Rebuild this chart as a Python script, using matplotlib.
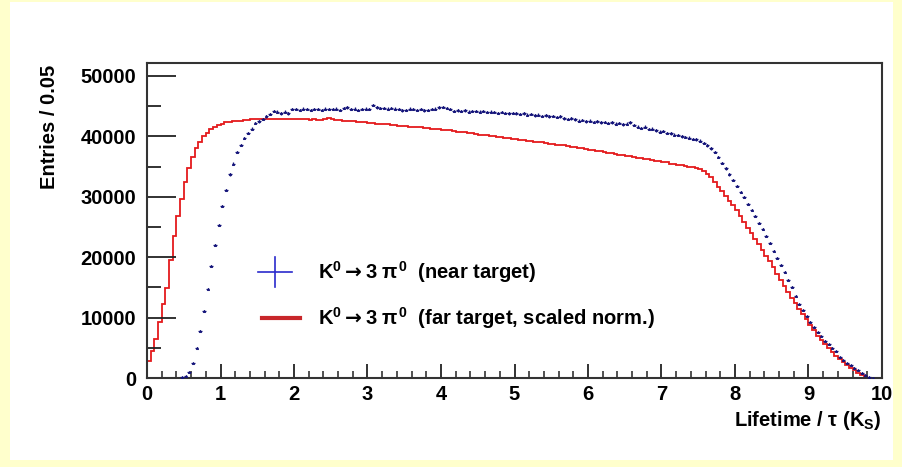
import numpy as np
import matplotlib
matplotlib.use("Agg")
import matplotlib.pyplot as plt
from matplotlib.patches import Rectangle

# histogram: 200 bins of width 0.05 on [0, 10], contents in thousands of entries
BIN_WIDTH = 0.05
EDGES = np.arange(0, 10.0001, BIN_WIDTH)

far_target = [
    2.8, 4.4, 6.5, 9.2, 12.3, 14.9, 19.6, 23.5, 26.8, 29.7,
    32.4, 34.8, 36.6, 38.1, 39.1, 40.1, 40.6, 41.2, 41.6, 41.9,
    42.1, 42.3, 42.4, 42.5, 42.6, 42.6, 42.7, 42.7, 42.8, 42.8,
    42.8, 42.9, 42.8, 42.9, 42.9, 42.8, 42.9, 42.9, 42.8, 42.9,
    42.8, 42.8, 42.8, 42.8, 42.7, 42.8, 42.7, 42.7, 42.8, 43.0,
    42.8, 42.7, 42.7, 42.6, 42.6, 42.5, 42.5, 42.4, 42.4, 42.3,
    42.2, 42.2, 42.1, 42.1, 42.0, 42.0, 41.9, 41.9, 41.8, 41.8,
    41.7, 41.6, 41.6, 41.5, 41.5, 41.4, 41.4, 41.3, 41.3, 41.2,
    41.1, 41.1, 41.0, 40.9, 40.8, 40.7, 40.7, 40.6, 40.5, 40.4,
    40.3, 40.3, 40.2, 40.1, 40.0, 39.9, 39.9, 39.8, 39.7, 39.6,
    39.5, 39.4, 39.4, 39.3, 39.2, 39.1, 39.0, 39.0, 38.9, 38.8,
    38.7, 38.6, 38.6, 38.5, 38.4, 38.3, 38.2, 38.1, 38.0, 37.9,
    37.8, 37.7, 37.6, 37.5, 37.4, 37.3, 37.2, 37.1, 37.0, 36.9,
    36.8, 36.7, 36.6, 36.5, 36.4, 36.3, 36.2, 36.1, 36.0, 35.9,
    35.8, 35.7, 35.5, 35.4, 35.3, 35.2, 35.1, 35.0, 34.9, 34.8,
    34.6, 34.2, 33.8, 33.3, 32.5, 31.7, 30.9, 30.1, 29.3, 28.6,
    27.8, 26.8, 25.8, 24.8, 24.0, 23.0, 22.2, 21.2, 20.2, 19.3,
    18.3, 17.3, 16.2, 15.2, 14.2, 13.3, 12.4, 11.5, 10.6, 9.7,
    8.8, 7.9, 7.0, 6.3, 5.6, 4.9, 4.3, 3.7, 3.2, 2.7,
    2.2, 1.7, 1.3, 0.9, 0.5, 0.2, 0.05, 0.0, 0.0, 0.0,
]

near_target = [
    0.0, 0.0, 0.0, 0.0, 0.0, 0.0, 0.0, 0.0, 0.0, 0.1,
    0.3, 1.0, 2.5, 5.0, 7.8, 11.1, 14.8, 18.5, 22.0, 25.3,
    28.4, 31.1, 33.7, 35.5, 37.4, 38.6, 39.7, 40.6, 41.3, 42.2,
    42.5, 42.9, 43.3, 43.7, 44.2, 44.1, 43.8, 44.1, 43.8, 44.5,
    44.5, 44.4, 44.6, 44.5, 44.4, 44.5, 44.5, 44.4, 44.6, 44.5,
    44.5, 44.6, 44.4, 44.7, 44.8, 44.5, 44.6, 44.4, 44.5, 44.6,
    44.5, 45.2, 44.8, 44.7, 44.7, 44.6, 44.7, 44.6, 44.5, 44.3,
    44.4, 44.6, 44.5, 44.4, 44.5, 44.3, 44.4, 44.5, 44.6, 44.8,
    44.9, 44.7, 44.5, 44.2, 44.3, 44.2, 44.3, 44.1, 44.2, 44.2,
    44.1, 44.2, 44.0, 44.1, 44.0, 43.9, 44.0, 43.9, 43.8, 43.9,
    43.8, 43.7, 43.8, 43.6, 43.7, 43.5, 43.6, 43.4, 43.5, 43.3,
    43.4, 43.2, 43.3, 43.0, 42.9, 43.0, 42.8, 42.6, 42.7, 42.5,
    42.6, 42.4, 42.5, 42.3, 42.4, 42.2, 42.3, 42.1, 42.2, 42.0,
    42.1, 42.3, 41.9, 41.6, 41.4, 41.6, 41.2, 41.3, 41.0, 40.8,
    40.9, 40.6, 40.5, 40.3, 40.2, 40.0, 39.9, 39.8, 39.6, 39.5,
    39.3, 38.9, 38.5, 38.0, 37.4, 36.6, 35.6, 34.7, 33.7, 32.8,
    31.8, 30.8, 29.9, 28.8, 27.8, 26.8, 25.7, 24.6, 23.5, 22.3,
    21.1, 19.9, 18.7, 17.5, 16.3, 15.1, 13.6, 12.2, 11.2, 10.2,
    9.3, 8.4, 7.6, 6.9, 6.2, 5.6, 5.0, 4.4, 3.4, 2.9,
    2.5, 2.1, 1.7, 1.3, 0.9, 0.5, 0.2, 0.05, 0.0, 0.0,
]

LABEL_NEAR = r"K$^{0}\mathsf{\rightarrow}$3 $\pi^{0}$  (near target)"
LABEL_FAR = r"K$^{0}\mathsf{\rightarrow}$3 $\pi^{0}$  (far target, scaled norm.)"

plt.rcParams["font.family"] = ["Liberation Sans", "DejaVu Sans"]
plt.rcParams["font.weight"] = "bold"
plt.rcParams["mathtext.fontset"] = "custom"
plt.rcParams["mathtext.rm"] = "Liberation Sans:bold"
plt.rcParams["mathtext.it"] = "Liberation Sans"
plt.rcParams["mathtext.bf"] = "Liberation Sans:bold"
plt.rcParams["mathtext.sf"] = "DejaVu Sans"

W, H = 903, 467
fig = plt.figure(figsize=(W / 100, H / 100), dpi=100, facecolor="#ffffcc")
fig.patches.append(Rectangle((10 / W, 7 / H), 883 / W, 458 / H, transform=fig.transFigure,
                             facecolor="white", edgecolor="none", zorder=-10))

ax = fig.add_axes([147 / W, (H - 378) / H, 735 / W, 315 / H])
ax.set_facecolor("none")

far = np.array(far_target) * 1000
near = np.array(near_target) * 1000
centers = EDGES[:-1] + BIN_WIDTH / 2

ax.stairs(far, EDGES, color="#e41a1c", linewidth=1.3)
mask = near > 0
ax.errorbar(centers[mask], near[mask], xerr=BIN_WIDTH / 2, yerr=np.sqrt(near[mask]),
            fmt="^", ms=1.6, mew=0.6, color="#14147a", ecolor="#14147a", elinewidth=0.9,
            capsize=0, zorder=3)

ax.set_xlim(0, 10)
ax.set_ylim(0, 52150)
ax.set_xticks(np.arange(0, 11, 1))
ax.set_xticks(np.arange(0, 10.01, 0.2), minor=True)
ax.set_yticks(np.arange(0, 50001, 10000))
ax.set_yticks(np.arange(0, 50001, 5000), minor=True)
ax.tick_params(which="both", direction="in", top=False, right=False, labelsize=14.5, colors="#222222")
ax.tick_params(axis="y", which="major", length=21, width=1.3, pad=8)
ax.tick_params(axis="y", which="minor", length=10, width=1.3)
ax.tick_params(axis="x", which="major", length=10, width=1.3, pad=5)
ax.tick_params(axis="x", which="minor", length=5, width=1.1)
for lab in ax.get_xticklabels() + ax.get_yticklabels():
    lab.set_fontweight("bold")
    lab.set_color("black")
for sp in ax.spines.values():
    sp.set_linewidth(1.5)
    sp.set_color("#333333")

fig.text(50 / W, 1 - 65 / H, "Entries / 0.05", rotation=90, ha="center", va="top",
         fontsize=14.5, fontweight="bold")
fig.text(882 / W, 1 - 420 / H, r"Lifetime / $\tau$ (K$_\mathrm{S}$)", ha="right", va="center",
         fontsize=14.5, fontweight="bold")

# legend drawn by hand, ROOT style (no frame)
ax.plot([0.151, 0.197], [0.3365, 0.3365], transform=ax.transAxes, color="#2a2acc", lw=1.2, clip_on=False)
ax.plot([0.174, 0.174], [0.289, 0.384], transform=ax.transAxes, color="#2a2acc", lw=1.2, clip_on=False)
ax.plot([0.1565, 0.208], [0.1905, 0.1905], transform=ax.transAxes, color="#c8262a", lw=3, clip_on=False)
ax.text(0.2327, 0.3365, LABEL_NEAR, transform=ax.transAxes, ha="left", va="center",
        fontsize=14.5, fontweight="bold")
ax.text(0.2327, 0.1905, LABEL_FAR, transform=ax.transAxes, ha="left", va="center",
        fontsize=14.5, fontweight="bold")

fig.savefig("out.png", dpi=100, facecolor=fig.get_facecolor())
